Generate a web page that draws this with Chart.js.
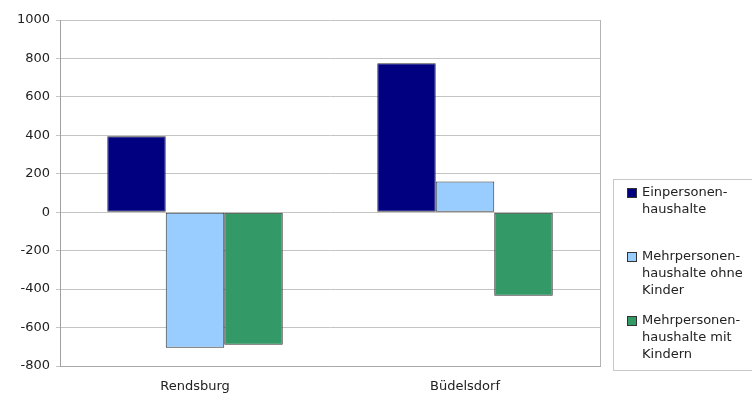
<!DOCTYPE html>
<html>
<head>
<meta charset="utf-8">
<script src="https://cdn.jsdelivr.net/npm/chart.js@4/dist/chart.umd.min.js"></script>
<style>
  html, body { margin: 0; padding: 0; background: #fff; }
  #wrap { width: 752px; height: 396px; }
</style>
</head>
<body>
<div id="wrap"><canvas id="chart01"></canvas></div>
<script>
// Gemeinden
var orte = ['Rendsburg', 'Büdelsdorf'];

// Veränderung je Haushaltstyp
var einpersonen = [395, 775];
var ohneKinder = [-705, 160];
var mitKindern = [-690, -435];

// Legendentexte (mehrzeilig)
var legendeEin = ['Einpersonen-', 'haushalte'];
var legendeOhne = ['Mehrpersonen-', 'haushalte ohne', 'Kinder'];
var legendeMit = ['Mehrpersonen-', 'haushalte mit', 'Kindern'];

// y-Achse
var yMin = -800;
var yMax = 1000;
var yStep = 200;

var schrift = 'DejaVu Sans';
var schriftGroesse = 13;
var textFarbe = '#222';
var gitterFarbe = '#c4c4c4';

// Rahmen rechts um die Zeichenfläche
var rahmenPlugin = {
  id: 'rahmen',
  afterDraw: function (chart) {
    var ctx = chart.ctx;
    var a = chart.chartArea;
    ctx.save();
    ctx.strokeStyle = '#b4b4b4';
    ctx.lineWidth = 1;
    ctx.beginPath();
    ctx.moveTo(Math.round(a.right) + 0.5, a.top);
    ctx.lineTo(Math.round(a.right) + 0.5, a.bottom);
    ctx.stroke();
    ctx.restore();
  }
};

// eigene Legende mit mehrzeiligen Einträgen
var legendePlugin = {
  id: 'legende',
  afterDraw: function (chart) {
    var ctx = chart.ctx;
    var a = chart.chartArea;
    var x0 = a.right + 13;
    var y0 = 179;
    ctx.save();
    ctx.strokeStyle = '#c8c8c8';
    ctx.lineWidth = 1;
    ctx.strokeRect(x0 + 0.5, y0 + 0.5, chart.width - x0 + 4, 191);

    ctx.font = schriftGroesse + 'px "' + schrift + '"';
    ctx.textBaseline = 'middle';
    ctx.textAlign = 'left';
    var zeilenHoehe = 17;
    chart.data.datasets.forEach(function (ds, i) {
      var yc = y0 + 14 + i * 64;
      ctx.fillStyle = ds.backgroundColor;
      ctx.fillRect(x0 + 14, yc - 5, 10, 10);
      ctx.strokeStyle = '#333';
      ctx.strokeRect(x0 + 14.5, yc - 4.5, 9, 9);
      ctx.fillStyle = textFarbe;
      ds.zeilen.forEach(function (z, k) {
        ctx.fillText(z, x0 + 29, yc + k * zeilenHoehe);
      });
    });
    ctx.restore();
  }
};

var ctx = document.getElementById('chart01');
var chart = new Chart(ctx, {
  type: 'bar',
  data: {
    labels: orte,
    datasets: [{
      label: legendeEin.join(' '),
      zeilen: legendeEin,
      backgroundColor: '#000080',
      data: einpersonen
    }, {
      label: legendeOhne.join(' '),
      zeilen: legendeOhne,
      backgroundColor: '#99ccff',
      data: ohneKinder
    }, {
      label: legendeMit.join(' '),
      zeilen: legendeMit,
      backgroundColor: '#339966',
      data: mitKindern
    }]
  },
  options: {
    responsive: true,
    maintainAspectRatio: false,
    animation: false,
    layout: { padding: { top: 20, right: 152, left: 0, bottom: 0 } },
    datasets: {
      bar: {
        categoryPercentage: 0.65,
        barPercentage: 1.0,
        borderColor: '#333',
        borderWidth: 1,
        borderSkipped: false
      }
    },
    plugins: {
      legend: { display: false },
      tooltip: { enabled: false }
    },
    scales: {
      x: {
        grid: { display: false },
        border: { display: true, color: '#a8a8a8' },
        ticks: {
          color: textFarbe,
          font: { family: schrift, size: schriftGroesse },
          padding: 5
        },
        afterFit: function (s) { s.height = 30; }
      },
      y: {
        min: yMin,
        max: yMax,
        ticks: {
          stepSize: yStep,
          color: textFarbe,
          font: { family: schrift, size: schriftGroesse },
          padding: 6,
          callback: function (v) { return String(v); }
        },
        grid: { color: gitterFarbe, tickLength: 4 },
        border: { display: true, color: '#a0a0a0' },
        afterFit: function (s) { s.width = 60; }
      }
    }
  },
  plugins: [rahmenPlugin, legendePlugin]
});
</script>
</body>
</html>
